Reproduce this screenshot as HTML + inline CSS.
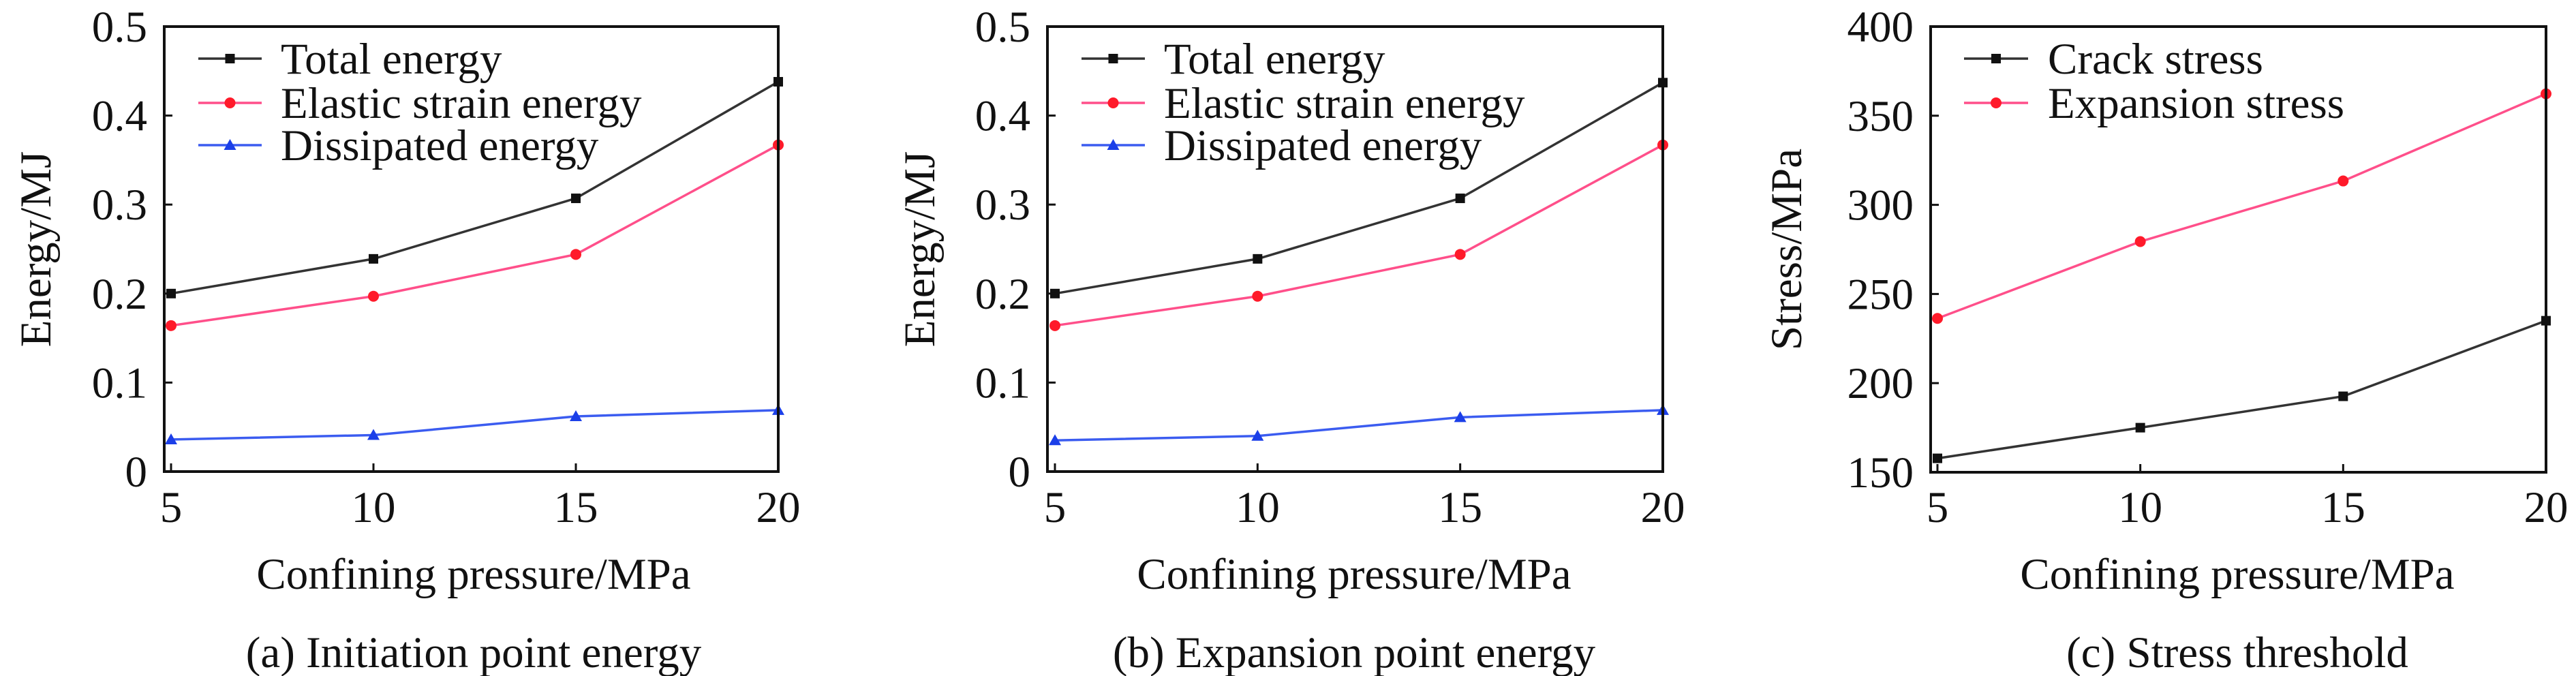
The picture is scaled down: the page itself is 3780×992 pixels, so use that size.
<!DOCTYPE html>
<html><head><meta charset="utf-8"><style>
html,body{margin:0;padding:0;background:#fff;}
svg{display:block;font-family:"Liberation Serif",serif;}
</style></head>
<body>
<svg id="fig" width="3780" height="992" viewBox="0 0 3780 992"></svg>
<script>
const xCats = [5, 10, 15, 20];
const totalA = [0.200, 0.239, 0.307, 0.438];
const elasticA = [0.164, 0.197, 0.244, 0.367];
const dissA = [0.036, 0.041, 0.062, 0.069];
const totalB = [0.200, 0.239, 0.307, 0.437];
const elasticB = [0.164, 0.197, 0.244, 0.367];
const dissB = [0.035, 0.040, 0.061, 0.069];
const crackC = [157.8, 175.0, 192.6, 235.0];
const expC = [236.3, 279.4, 313.4, 362.3];
const energyTicks = [0, 0.1, 0.2, 0.3, 0.4, 0.5];
const energyTickLabels = ["0", "0.1", "0.2", "0.3", "0.4", "0.5"];
const stressTicks = [150, 200, 250, 300, 350, 400];
const stressTickLabels = ["150", "200", "250", "300", "350", "400"];

const NS = "http://www.w3.org/2000/svg";
const svg = document.getElementById('fig');
function mk(tag, attrs, parent, text) {
  const e = document.createElementNS(NS, tag);
  for (const k in attrs) e.setAttribute(k, attrs[k]);
  if (text !== undefined) e.textContent = text;
  (parent || svg).appendChild(e);
  return e;
}
const FS = 65;
const COLORS = {black: "#222", red: "#ff1a2a", pinkLine: "#ff4f8a", blue: "#1b3fe8", blueLine: "#3b5cf0"};

function marker(g, type, x, y, color) {
  let m;
  if (type === 'square') m = mk('rect', {x: x - 7, y: y - 7, width: 14, height: 14, fill: "#111"}, g);
  else if (type === 'circle') m = mk('circle', {cx: x, cy: y, r: 8, fill: color}, g);
  else m = mk('polygon', {points: `${x},${y - 9} ${x + 9},${y + 7} ${x - 9},${y + 7}`, fill: color}, g);
  
  
}

function panel(cfg) {
  const g = mk('g', {}, svg);
  
  
  const xs = v => cfg.x0 + (v - 5) / 15 * (cfg.x1 - cfg.x0);
  const ys = v => cfg.yb - (v - cfg.ymin) / (cfg.ymax - cfg.ymin) * (cfg.yb - cfg.yt);
  // series
  cfg.series.forEach(s => {
    const pts = xCats.map((c, i) => xs(c) + ',' + ys(s.vals[i])).join(' ');
    const pl = mk('polyline', {points: pts, fill: 'none', stroke: s.line, 'stroke-width': 3.5}, g);
    
    
    xCats.forEach((c, i) => marker(g, s.mk, xs(c), ys(s.vals[i]), s.color));
  });
  // frame
  const fr = mk('rect', {x: cfg.fl, y: cfg.yt, width: cfg.x1 - cfg.fl, height: cfg.yb - cfg.yt, fill: 'none', stroke: '#111', 'stroke-width': 4}, g);
  
  
  // y ticks
  cfg.yticks.forEach((t, i) => {
    const y = ys(t);
    mk('line', {x1: cfg.fl, x2: cfg.fl + 12, y1: y, y2: y, stroke: '#111', 'stroke-width': 3}, g);
    const tx = mk('text', {x: cfg.ylabR, y: y + 22, 'font-size': FS, 'text-anchor': 'end', fill: '#111'}, g, cfg.ylabels[i]);
    
    
  });
  xCats.forEach(c => {
    const x = xs(c);
    mk('line', {x1: x, x2: x, y1: cfg.yb, y2: cfg.yb - 12, stroke: '#111', 'stroke-width': 3}, g);
    const tx = mk('text', {x: x, y: 766, 'font-size': FS, 'text-anchor': 'middle', fill: '#111'}, g, String(c));
    
    
  });
  const yt = mk('text', {x: 0, y: 0, 'font-size': FS, 'text-anchor': 'middle', fill: '#111', transform: `translate(${cfg.ytx},${(cfg.yt + cfg.yb) / 2}) rotate(-90)`}, g, cfg.ytitle);
  
  
  const xt = mk('text', {x: cfg.xtc, y: 864, 'font-size': FS, 'text-anchor': 'middle', fill: '#111'}, g, 'Confining pressure/MPa');
  
  
  const cap = mk('text', {x: cfg.xtc, y: 979, 'font-size': FS, 'text-anchor': 'middle', fill: '#111'}, g, cfg.caption);
  
  
  // legend
  const rows = [86, 151, 213];
  cfg.series.forEach((s, i) => {
    const lg = mk('g', {}, g);
    
    
    mk('line', {x1: cfg.lx1, x2: cfg.lx2, y1: rows[i], y2: rows[i], stroke: s.line, 'stroke-width': 3.5}, lg);
    marker(lg, s.mk, (cfg.lx1 + cfg.lx2) / 2, rows[i], s.color);
    mk('text', {x: cfg.ltx, y: rows[i] + 22, 'font-size': FS, fill: '#111'}, lg, s.label);
  });
}

const energySeries = (t, e, d) => [
  {key: 'total-energy', label: 'Total energy', vals: t, mk: 'square', color: '#111', line: '#333'},
  {key: 'elastic-strain-energy', label: 'Elastic strain energy', vals: e, mk: 'circle', color: COLORS.red, line: COLORS.pinkLine},
  {key: 'dissipated-energy', label: 'Dissipated energy', vals: d, mk: 'triangle', color: COLORS.blue, line: COLORS.blueLine}
];

panel({name: 'panel-a', fl: 241, x0: 251, x1: 1142, yt: 39, yb: 692, ymin: 0, ymax: 0.5,
  yticks: energyTicks, ylabels: energyTickLabels, ylabR: 216, ytx: 74, xtc: 695,
  ytitle: 'Energy/MJ', caption: '(a) Initiation point energy',
  lx1: 291, lx2: 384, ltx: 412, series: energySeries(totalA, elasticA, dissA)});
panel({name: 'panel-b', fl: 1537, x0: 1548, x1: 2440, yt: 39, yb: 692, ymin: 0, ymax: 0.5,
  yticks: energyTicks, ylabels: energyTickLabels, ylabR: 1512, ytx: 1371, xtc: 1987,
  ytitle: 'Energy/MJ', caption: '(b) Expansion point energy',
  lx1: 1587, lx2: 1680, ltx: 1708, series: energySeries(totalB, elasticB, dissB)});
panel({name: 'panel-c', fl: 2833, x0: 2843, x1: 3736, yt: 39, yb: 693, ymin: 150, ymax: 400,
  yticks: stressTicks, ylabels: stressTickLabels, ylabR: 2808, ytx: 2643, xtc: 3283,
  ytitle: 'Stress/MPa', caption: '(c) Stress threshold',
  lx1: 2882, lx2: 2976, ltx: 3005, series: [
    {key: 'crack-stress', label: 'Crack stress', vals: crackC, mk: 'square', color: '#111', line: '#333'},
    {key: 'expansion-stress', label: 'Expansion stress', vals: expC, mk: 'circle', color: COLORS.red, line: COLORS.pinkLine}
  ]});
</script>
</body></html>
